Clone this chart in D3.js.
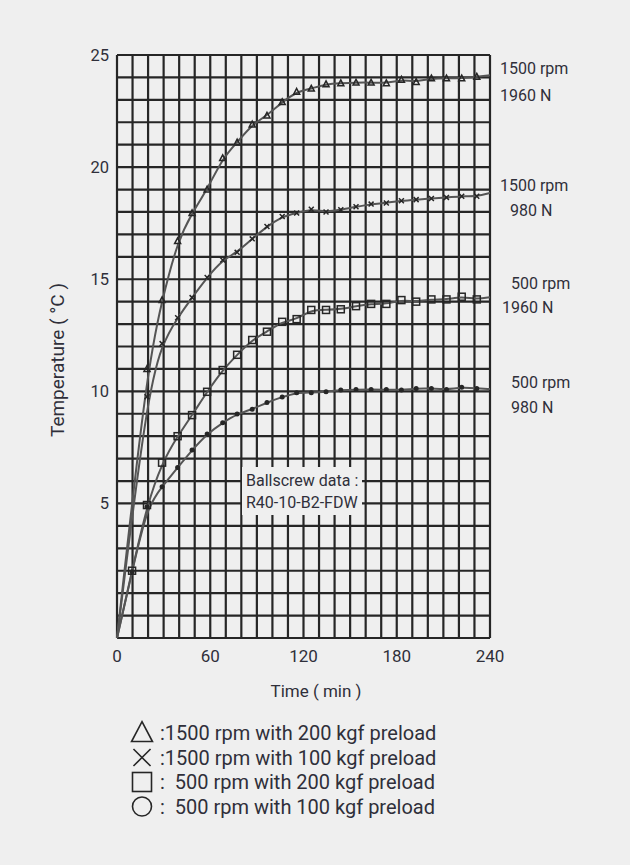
<!DOCTYPE html>
<html><head><meta charset="utf-8">
<script src="https://cdn.jsdelivr.net/npm/d3@7"></script>
<style>
html,body{margin:0;padding:0;background:#efefef;}
svg{display:block;font-family:Roboto,"DejaVu Sans",sans-serif;}
</style></head>
<body>
<svg id="c" width="630" height="865"></svg>
<script>
// ---- data ----
const times = [9.7, 19.3, 29, 39, 48.3, 58, 68, 77.3, 87, 96.5, 106.3, 115.6, 125, 134.5, 144, 153.8, 163.5, 173.3, 183, 192.5, 202.3, 212, 221.8, 231.5];
const tri1500_1960 = [null, 11.0, 14.07, 16.7, 17.95, 19.0, 20.4, 21.1, 21.9, 22.3, 22.9, 23.36, 23.5, 23.7, 23.74, 23.77, 23.77, 23.74, 23.9, 23.8, 23.96, 23.96, 23.96, 24.03];
const x1500_980 = [null, 9.76, 12.13, 13.28, 14.18, 15.08, 15.86, 16.2, 16.8, 17.35, 17.8, 17.95, 18.12, 18.0, 18.1, 18.23, 18.35, 18.4, 18.5, 18.55, 18.6, 18.65, 18.7, 18.7];
const sq500_1960 = [2.0, 4.93, 6.82, 8.0, 8.94, 9.98, 10.95, 11.63, 12.29, 12.66, 13.1, 13.22, 13.63, 13.63, 13.66, 13.8, 13.9, 13.9, 14.07, 14.0, 14.1, 14.1, 14.22, 14.1];
const ci500_980 = [1.95, 4.85, 5.74, 6.6, 7.38, 8.1, 8.6, 8.99, 9.2, 9.5, 9.75, 9.94, 9.94, 9.98, 10.06, 10.08, 10.08, 10.08, 10.06, 10.13, 10.13, 10.08, 10.18, 10.13];
const startValue = -1;
const endValues = [24.1, 18.85, 14.2, 10.1];
const seriesNames = ["tri", "x", "sq", "ci"];
const xTicks = [0, 60, 120, 180, 240];
const yTicks = [5, 10, 15, 20, 25];
const rightLabels = ["1500 rpm", "1960 N", "1500 rpm", "980 N", "500 rpm", "1960 N", "500 rpm", "980 N"];
const rightLabelVals = [24.42, 23.22, 19.2, 18.09, 14.83, 13.76, 10.42, 9.3];
const rightLabelDx = [0, 0, 0, 10, 11, 2, 11, 11];
const boxText = ["Ballscrew data :", "R40-10-B2-FDW"];
const legendSymbols = ["tri", "x", "sq", "ci"];
const legendTexts = [":1500 rpm with 200 kgf preload", ":1500 rpm with 100 kgf preload", ":  500 rpm with 200 kgf preload", ":  500 rpm with 100 kgf preload"];

// ---- layout ----
const svg = d3.select("#c");
const L = 117, R = 490, T = 55, B = 638;
const x = d3.scaleLinear().domain([0, 240]).range([L, R]);
const y = d3.scaleLinear().domain([-1, 25]).range([B, T]);
const ink = "#262626", txt = "#2f2f3a";

// grid
const g = svg.append("g");
g.selectAll("line.v").data(d3.range(0, 241, 10)).join("line")
  .attr("x1", d => x(d)).attr("x2", d => x(d)).attr("y1", T).attr("y2", B)
  .attr("stroke", ink).attr("stroke-width", 2.2);
g.selectAll("line.h").data(d3.range(-1, 26, 1)).join("line")
  .attr("x1", L).attr("x2", R).attr("y1", d => y(d)).attr("y2", d => y(d))
  .attr("stroke", ink).attr("stroke-width", 2.2);

// annotation box hiding grid
svg.append("rect").attr("x", 242).attr("y", 467).attr("width", 120).attr("height", 48).attr("fill", "#efefef");
svg.selectAll("text.box").data(boxText).join("text")
  .attr("x", 246).attr("y", (d, i) => 486 + i * 22)
  .attr("font-size", 16).attr("fill", txt).text(d => d);

// curves
const allSeries = [tri1500_1960, x1500_980, sq500_1960, ci500_980];
const line = d3.line().x(d => x(d[0])).y(d => y(d[1])).curve(d3.curveBasis);
allSeries.forEach((vals, si) => {
  const pts = [[0, startValue]];
  times.forEach((t, i) => { if (vals[i] != null) pts.push([t, vals[i]]); });
  pts.push([240, endValues[si]]);
  svg.append("path").attr("d", line(pts)).attr("fill", "none")
    .attr("stroke", "#555").attr("stroke-width", 2);
});

function symbol(sel, type, cx, cy, s, fillDot, sw) {
  if (type === "tri") {
    sel.append("path").attr("d", `M${cx},${cy - s * 0.6}L${cx + s * 0.55},${cy + s * 0.45}L${cx - s * 0.55},${cy + s * 0.45}Z`)
      .attr("fill", "none").attr("stroke", ink).attr("stroke-width", sw);
  } else if (type === "x") {
    const h = s * 0.45;
    sel.append("path").attr("d", `M${cx - h},${cy - h}L${cx + h},${cy + h}M${cx + h},${cy - h}L${cx - h},${cy + h}`)
      .attr("stroke", ink).attr("stroke-width", sw);
  } else if (type === "sq") {
    sel.append("rect").attr("x", cx - s / 2).attr("y", cy - s / 2).attr("width", s).attr("height", s)
      .attr("fill", "none").attr("stroke", ink).attr("stroke-width", sw);
  } else {
    sel.append("circle").attr("cx", cx).attr("cy", cy).attr("r", s / 2)
      .attr("fill", fillDot ? ink : "none").attr("stroke", ink).attr("stroke-width", sw);
  }
}

// markers
const mk = svg.append("g");
allSeries.forEach((vals, si) => {
  times.forEach((t, i) => {
    if (vals[i] == null) return;
    const type = seriesNames[si];
    const s = type === "sq" ? 7 : type === "ci" ? 3.5 : 5.5;
    symbol(mk, type, x(t), y(vals[i]), s, true, 1.5);
  });
});

// axes labels
svg.selectAll("text.xt").data(xTicks).join("text")
  .attr("x", d => x(d)).attr("y", 662).attr("text-anchor", "middle")
  .attr("font-size", 17).attr("fill", txt).text(d => d);
svg.selectAll("text.yt").data(yTicks).join("text")
  .attr("x", 109).attr("y", d => y(d)).attr("dy", "0.35em").attr("text-anchor", "end")
  .attr("font-size", 16.5).attr("fill", txt).text(d => d);
svg.append("text").attr("x", 316).attr("y", 697).attr("text-anchor", "middle")
  .attr("font-size", 17).attr("fill", txt).text("Time ( min )");
svg.append("text").attr("transform", `translate(64,360) rotate(-90)`)
  .attr("text-anchor", "middle").attr("font-size", 19).attr("fill", txt).text("Temperature ( °C )");

// right labels
svg.selectAll("text.rl").data(rightLabels).join("text")
  .attr("x", (d, i) => R + 10 + rightLabelDx[i]).attr("y", (d, i) => y(rightLabelVals[i])).attr("dy", "0.35em")
  .attr("font-size", 16).attr("fill", txt).text(d => d);

// legend
const lg = svg.append("g");
legendSymbols.forEach((s, i) => {
  const cy = 733 + i * 24.5;
  symbol(lg, s, 142, cy, 19, false, 1.6);
  lg.append("text").attr("x", 160).attr("y", cy).attr("dy", "0.35em")
    .attr("font-size", 20).attr("fill", txt).attr("xml:space", "preserve").style("white-space", "pre").text(legendTexts[i]);
});
</script>
</body></html>
